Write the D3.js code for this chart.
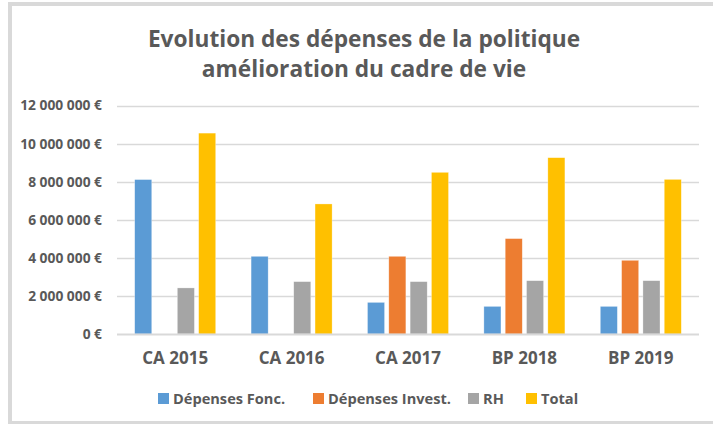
<!DOCTYPE html>
<html>
<head>
<meta charset="utf-8">
<script src="https://cdn.jsdelivr.net/npm/d3@7"></script>
<style>
  body { margin: 0; background: #fff; }
  svg text { font-family: "Open Sans", sans-serif; font-weight: bold; fill: #595959; }
</style>
</head>
<body>
<div id="chart"></div>
<script>
const width = 713, height = 424;

// data
const categories = ['CA 2015', 'CA 2016', 'CA 2017', 'BP 2018', 'BP 2019'];
const seriesNames = ['Dépenses Fonc.', 'Dépenses Invest.', 'RH', 'Total'];
const depFonc = [8110000, 4080000, 1660000, 1450000, 1450000];
const depInvest = [0, 0, 4080000, 5010000, 3870000];
const rh = [2420000, 2750000, 2750000, 2800000, 2800000];
const total = [10550000, 6830000, 8490000, 9260000, 8120000];
const yTicks = [0, 2000000, 4000000, 6000000, 8000000, 10000000, 12000000];
const titleLines = ['Evolution des dépenses de la politique', 'amélioration du cadre de vie'];

const colors = ['#5B9BD5', '#ED7D31', '#A5A5A5', '#FFC000'];
const seriesValues = [depFonc, depInvest, rh, total];

const margin = {left: 117, right: 14, top: 105.5, bottom: 90};

const svg = d3.select('#chart').append('svg')
    .attr('width', width)
    .attr('height', height);

// chart frame
svg.append('rect')
    .attr('x', 10).attr('y', 4)
    .attr('width', 800).attr('height', 419)
    .attr('fill', 'none')
    .attr('stroke', '#d9d9d9')
    .attr('stroke-width', 4);

const x0 = d3.scaleBand()
    .domain(categories)
    .range([margin.left, width - margin.right]);

const x1 = d3.scaleBand()
    .domain(seriesNames)
    .range([0, x0.bandwidth()])
    .paddingInner(0.2)
    .paddingOuter(0.83);

const y = d3.scaleLinear()
    .domain([0, 12000000])
    .range([height - margin.bottom, margin.top]);

const fmt = v => d3.format(',')(v).replace(/,/g, ' ') + ' €';

// gridlines
svg.append('g').attr('id', 'grid')
    .selectAll('line')
    .data(yTicks.slice(1))
    .join('line')
    .attr('x1', margin.left)
    .attr('x2', width - margin.right)
    .attr('y1', d => Math.round(y(d)) + 0.5)
    .attr('y2', d => Math.round(y(d)) + 0.5)
    .attr('stroke', '#d9d9d9')
    .attr('stroke-width', 1.5);

// y axis labels
const yAxis = svg.append('g')
    .attr('transform', 'translate(' + (margin.left - 15) + ',0)')
    .call(d3.axisLeft(y).tickValues(yTicks).tickFormat(fmt).tickSize(0).tickPadding(0));
yAxis.select('.domain').remove();
yAxis.selectAll('text')
    .attr('font-size', 13.8)
    .attr('font-family', null)
    .attr('fill', '#595959');

// bars
const rows = categories.map((c, i) => ({
    cat: c,
    vals: seriesNames.map((s, j) => ({key: s, value: seriesValues[j][i], color: colors[j]}))
}));

svg.append('g').attr('id', 'bars')
    .selectAll('g')
    .data(rows)
    .join('g')
    .attr('transform', d => 'translate(' + x0(d.cat) + ',0)')
    .selectAll('rect')
    .data(d => d.vals.filter(v => v.value > 0))
    .join('rect')
    .attr('x', d => x1(d.key))
    .attr('width', x1.bandwidth())
    .attr('y', d => y(d.value))
    .attr('height', d => y(0) - y(d.value))
    .attr('fill', d => d.color)
    .attr('stroke', '#fff')
    .attr('stroke-opacity', 0.5)
    .attr('stroke-width', 0.6);

// baseline
svg.append('line')
    .attr('x1', margin.left)
    .attr('x2', width - margin.right)
    .attr('y1', y(0) + 0.5)
    .attr('y2', y(0) + 0.5)
    .attr('stroke', '#d9d9d9')
    .attr('stroke-width', 2);

// x axis labels
const xAxis = svg.append('g')
    .attr('transform', 'translate(0,' + (y(0) + 18) + ')')
    .call(d3.axisBottom(x0).tickSize(0).tickPadding(0));
xAxis.select('.domain').remove();
xAxis.selectAll('text')
    .attr('font-size', 17)
    .attr('font-family', null)
    .attr('fill', '#595959');

// title
svg.append('g').attr('id', 'title')
    .selectAll('text')
    .data(titleLines)
    .join('text')
    .attr('x', 364)
    .attr('y', (d, i) => 47 + i * 30)
    .attr('text-anchor', 'middle')
    .attr('font-size', 22.7)
    .text(d => d);

// legend
const legendX = [158, 313, 468, 526];
const legend = svg.append('g').attr('id', 'legend')
    .selectAll('g')
    .data(seriesNames)
    .join('g')
    .attr('transform', (d, i) => 'translate(' + legendX[i] + ',393)');
legend.append('rect')
    .attr('width', 11).attr('height', 11)
    .attr('fill', (d, i) => colors[i]);
legend.append('text')
    .attr('x', 15)
    .attr('y', 11)
    .attr('font-size', 14.6)
    .text(d => d);
</script>
</body>
</html>
